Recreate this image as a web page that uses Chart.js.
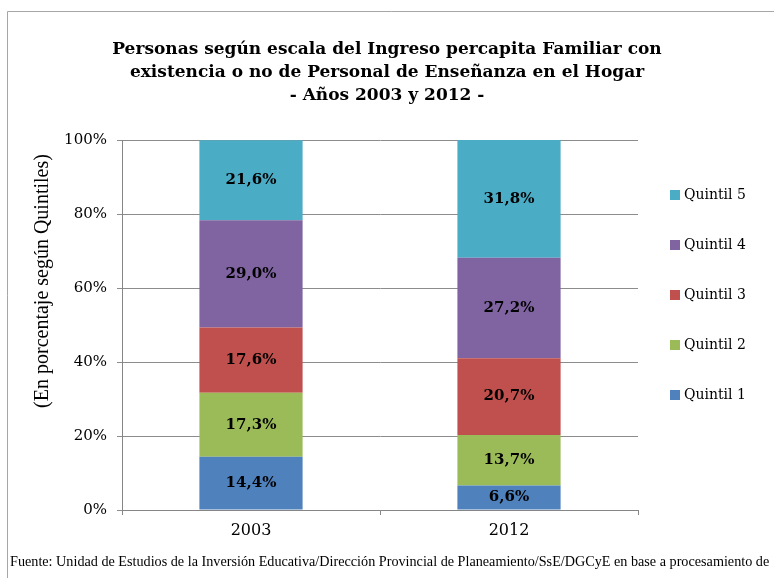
<!DOCTYPE html>
<html>
<head>
<meta charset="utf-8">
<script src="https://cdn.jsdelivr.net/npm/chart.js@4/dist/chart.umd.min.js"></script>
<style>
    body { margin: 0; background: #fff; }
    #wrap { width: 774px; height: 578px; }
</style>
</head>
<body>
<div id="wrap"><canvas id="grafico" width="774" height="578"></canvas></div>
<script>
const anos = ["2003", "2012"];
const quintiles = ["Quintil 1", "Quintil 2", "Quintil 3", "Quintil 4", "Quintil 5"];
const q1 = [14.4, 6.6];
const q2 = [17.3, 13.7];
const q3 = [17.6, 20.7];
const q4 = [29.0, 27.2];
const q5 = [21.6, 31.8];
const ticksY = [0, 20, 40, 60, 80, 100];
const cores = ["#4F81BD", "#9BBB59", "#C0504D", "#8064A2", "#4BACC6"];

const titulo = [
    "Personas según escala del Ingreso percapita Familiar con",
    "existencia o no de Personal de Enseñanza en el Hogar",
    "- Años 2003 y 2012 -"
];
const tituloY = "(En porcentaje según Quintiles)";
const fuente = "Fuente: Unidad de Estudios de la Inversión Educativa/Dirección Provincial de Planeamiento/SsE/DGCyE en base a procesamiento de";

const serif = "'DejaVu Serif', Georgia, serif";
const serif2 = "'Liberation Serif', 'Times New Roman', serif";

const valores = [q1, q2, q3, q4, q5];

// marco, titulos, rotulos de las barras, leyenda y fuente
const extras = {
    id: "extras",
    beforeDraw(chart) {
        const ctx = chart.ctx;
        ctx.save();
        ctx.strokeStyle = "#a6a6a6";
        ctx.lineWidth = 1;
        ctx.beginPath();
        ctx.moveTo(7.5, 600);
        ctx.lineTo(7.5, 11.5);
        ctx.lineTo(780, 11.5);
        ctx.stroke();

        ctx.font = "bold 17px " + serif;
        ctx.fillStyle = "#000";
        ctx.textAlign = "center";
        ctx.textBaseline = "middle";
        titulo.forEach((t, i) => ctx.fillText(t, 387, 50 + i * 23));

        ctx.translate(43, 281);
        ctx.rotate(-Math.PI / 2);
        ctx.font = "20px " + serif2;
        ctx.fillText(tituloY, 0, 0);
        ctx.restore();
    },
    afterDatasetsDraw(chart) {
        const ctx = chart.ctx;
        ctx.save();
        ctx.font = "bold 15px " + serif;
        ctx.fillStyle = "#000";
        ctx.textAlign = "center";
        ctx.textBaseline = "middle";
        chart.data.datasets.forEach((ds, i) => {
            chart.getDatasetMeta(i).data.forEach((bar, j) => {
                const txt = ds.data[j].toFixed(1).replace(".", ",") + "%";
                ctx.fillText(txt, bar.x, (bar.y + bar.base) / 2);
            });
        });
        ctx.restore();
    },
    afterDraw(chart) {
        const ctx = chart.ctx;
        ctx.save();
        ctx.textBaseline = "middle";
        ctx.font = "14px " + serif;
        const n = chart.data.datasets.length;
        for (let k = 0; k < n; k++) {
            const ds = chart.data.datasets[n - 1 - k];
            const y = 195 + k * 50;
            ctx.fillStyle = ds.backgroundColor;
            ctx.fillRect(670, y - 5, 10, 10);
            ctx.fillStyle = "#000";
            ctx.fillText(ds.label, 684, y);
        }
        ctx.font = "14.2px " + serif2;
        ctx.fillStyle = "#000";
        ctx.fillText(fuente, 10, 562);
        ctx.restore();
    }
};

new Chart(document.getElementById("grafico"), {
    type: "bar",
    data: {
        labels: anos,
        datasets: valores.map((v, i) => ({
            label: quintiles[i],
            data: v,
            backgroundColor: cores[i],
            borderWidth: 0,
            categoryPercentage: 1,
            barPercentage: 0.4
        }))
    },
    plugins: [extras],
    options: {
        responsive: false,
        animation: false,
        layout: { padding: { left: 8, right: 136, top: 140, bottom: 28 } },
        plugins: {
            legend: { display: false },
            tooltip: { enabled: false },
            title: { display: false }
        },
        scales: {
            x: {
                stacked: true,
                afterFit: s => { s.height = 40; },
                grid: {
                    drawOnChartArea: false,
                    tickLength: 5,
                    color: "#868686"
                },
                border: { color: "#868686" },
                ticks: {
                    color: "#000",
                    padding: 6,
                    font: { family: serif, size: 16 }
                }
            },
            y: {
                stacked: true,
                min: 0,
                max: 100,
                afterFit: s => { s.width = 114; },
                afterBuildTicks: s => { s.ticks = ticksY.map(v => ({ value: v })); },
                grid: { color: "#8c8c8c", tickLength: 5 },
                border: { color: "#868686" },
                ticks: {
                    color: "#000",
                    padding: 10,
                    font: { family: serif, size: 15 },
                    callback: v => v + "%"
                }
            }
        }
    }
});
</script>
</body>
</html>
